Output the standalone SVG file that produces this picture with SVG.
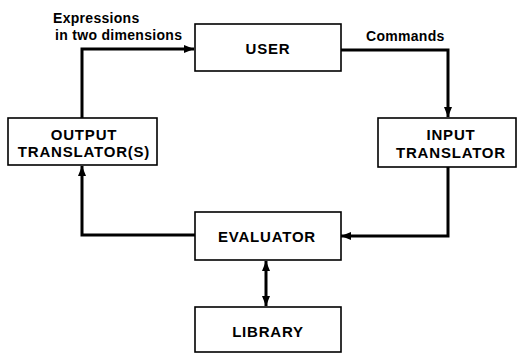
<svg xmlns="http://www.w3.org/2000/svg" width="519" height="354" viewBox="0 0 519 354">
<defs>
<style>
.box{fill:#fff;stroke:#000;stroke-width:1.6}
.t{font-family:"Liberation Sans",Arial,sans-serif;font-weight:bold;font-size:15px;letter-spacing:0.8px;text-anchor:middle;fill:#000}
.l{font-family:"Liberation Sans",Arial,sans-serif;font-weight:bold;font-size:14px;letter-spacing:0.3px;fill:#000}
.c{fill:none;stroke:#000;stroke-width:3}
</style>
<marker id="ah" viewBox="0 0 10 8" refX="10" refY="4" markerWidth="10" markerHeight="8" markerUnits="userSpaceOnUse" orient="auto-start-reverse">
<path d="M0,0 L10,4 L0,8 Z" fill="#000"/>
</marker>
</defs>
<rect width="519" height="354" fill="#fff"/>
<g id="connectors">
<polyline class="c" points="82,118 82,49 194,49" marker-end="url(#ah)"/>
<polyline class="c" points="341,50 448,50 448,117" marker-end="url(#ah)"/>
<polyline class="c" points="448,167 448,236 341,236" marker-end="url(#ah)"/>
<polyline class="c" points="195,235 82,235 82,166" marker-end="url(#ah)"/>
<line class="c" x1="266" y1="261" x2="266" y2="306" marker-start="url(#ah)" marker-end="url(#ah)"/>
</g>
<g id="label-expressions">
<text class="l" x="53" y="23">Expressions</text>
<text class="l" x="55" y="40">in two dimensions</text>
</g>
<g id="label-commands">
<text class="l" x="366" y="41">Commands</text>
</g>
<g id="user">
<rect class="box" x="195" y="24" width="146" height="47"/>
<text class="t" x="268" y="54">USER</text>
</g>
<g id="input-translator">
<rect class="box" x="378" y="118" width="138" height="49"/>
<text class="t" x="451" y="140">INPUT</text>
<text class="t" x="451" y="158">TRANSLATOR</text>
</g>
<g id="output-translator">
<rect class="box" x="8" y="118" width="149" height="47"/>
<text class="t" x="84" y="140">OUTPUT</text>
<text class="t" x="84" y="157">TRANSLATOR(S)</text>
</g>
<g id="evaluator">
<rect class="box" x="195" y="212" width="146" height="48"/>
<text class="t" x="267" y="242">EVALUATOR</text>
</g>
<g id="library">
<rect class="box" x="195" y="307" width="146" height="45"/>
<text class="t" x="268" y="337">LIBRARY</text>
</g>
</svg>
